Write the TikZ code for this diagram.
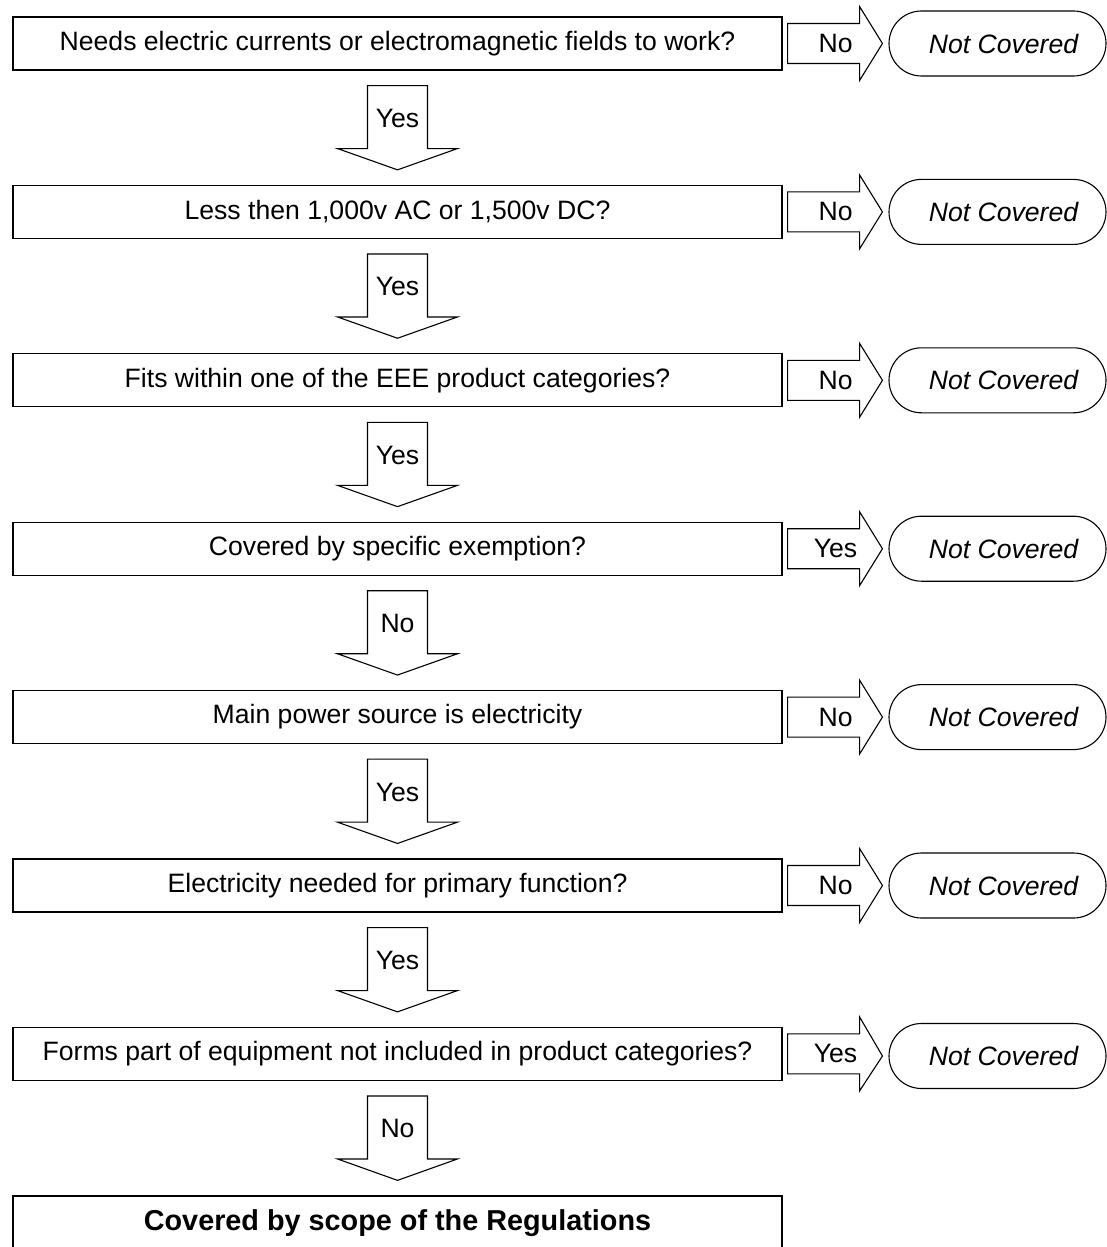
\documentclass[tikz,border=0pt]{standalone}
\usepackage{fontspec}
\setmainfont{Liberation Sans}
\usetikzlibrary{shapes.misc,calc}
\begin{document}
\begin{tikzpicture}[x=1pt,y=-1pt,line width=1.1pt,
  txt/.style={font=\fontsize{26.6}{30}\selectfont},
  qbox/.style={txt,draw,rectangle,minimum width=769pt,minimum height=53pt,inner sep=0pt},
  term/.style={txt,draw,rounded rectangle,minimum width=217pt,minimum height=65pt,inner sep=0pt,font=\fontsize{26.6}{30}\selectfont\itshape},
  lbl/.style={txt,inner sep=0pt},
  blockarrow/.style={draw,line join=miter,fill=white}]
\useasboundingbox (0,0) rectangle (1107,1247);
% question boxes
\node[qbox] (q1) at (397.5,43.5) {Needs electric currents or electromagnetic fields to work?};
\node[qbox] (q2) at (397.5,211.9) {Less then 1,000v AC or 1,500v DC?};
\node[qbox] (q3) at (397.5,380.3) {Fits within one of the EEE product categories?};
\node[qbox] (q4) at (397.5,548.7) {Covered by specific exemption?};
\node[qbox] (q5) at (397.5,717.1) {Main power source is electricity};
\node[qbox] (q6) at (397.5,885.5) {Electricity needed for primary function?};
\node[qbox] (q7) at (397.5,1053.9) {Forms part of equipment not included in product categories?};
\node[txt,draw,rectangle,minimum width=769pt,minimum height=54pt,inner sep=0pt,line width=1.3pt,font=\fontsize{28.8}{32}\selectfont\bfseries] (fin) at (397.5,1223) {Covered by scope of the Regulations};
% terminators
\foreach \i/\y in {1/43.5,2/211.9,3/380.3,4/548.7,5/717.1,6/885.5,7/1056}
  \node[term] (t\i) at (997.5,\y) {\hspace*{12pt}Not Covered};
% right arrows
\foreach \i/\a in {1/No,2/No,3/No,4/Yes,5/No,6/No,7/Yes}{
  \draw[blockarrow] ($(q\i.east)+(5,-20)$) -- ($(q\i.east)+(77,-20)$) -- ($(q\i.east)+(77,-37)$)
     -- ($(t\i.west)+(-6,0)$) -- ($(q\i.east)+(77,37)$) -- ($(q\i.east)+(77,20)$) -- ($(q\i.east)+(5,20)$) -- cycle;
  \node[lbl] (r\i) at ($(q\i.east)+(53,0)$) {\a};
}
% down arrows
\foreach \i/\n/\a in {1/q2/Yes,2/q3/Yes,3/q4/Yes,4/q5/No,5/q6/Yes,6/q7/Yes,7/fin/No}{
  \draw[blockarrow] ($(q\i.south)+(-30,15)$) -- ($(q\i.south)+(30,15)$) -- ($(q\i.south)+(30,78)$)
     -- ($(q\i.south)+(60,78)$) -- ($(\n.north)+(0,-15)$) -- ($(q\i.south)+(-60,78)$)
     -- ($(q\i.south)+(-30,78)$) -- cycle;
  \node[lbl] (d\i) at ($(q\i.south)+(0,48)$) {\a};
}
\end{tikzpicture}
\end{document}
